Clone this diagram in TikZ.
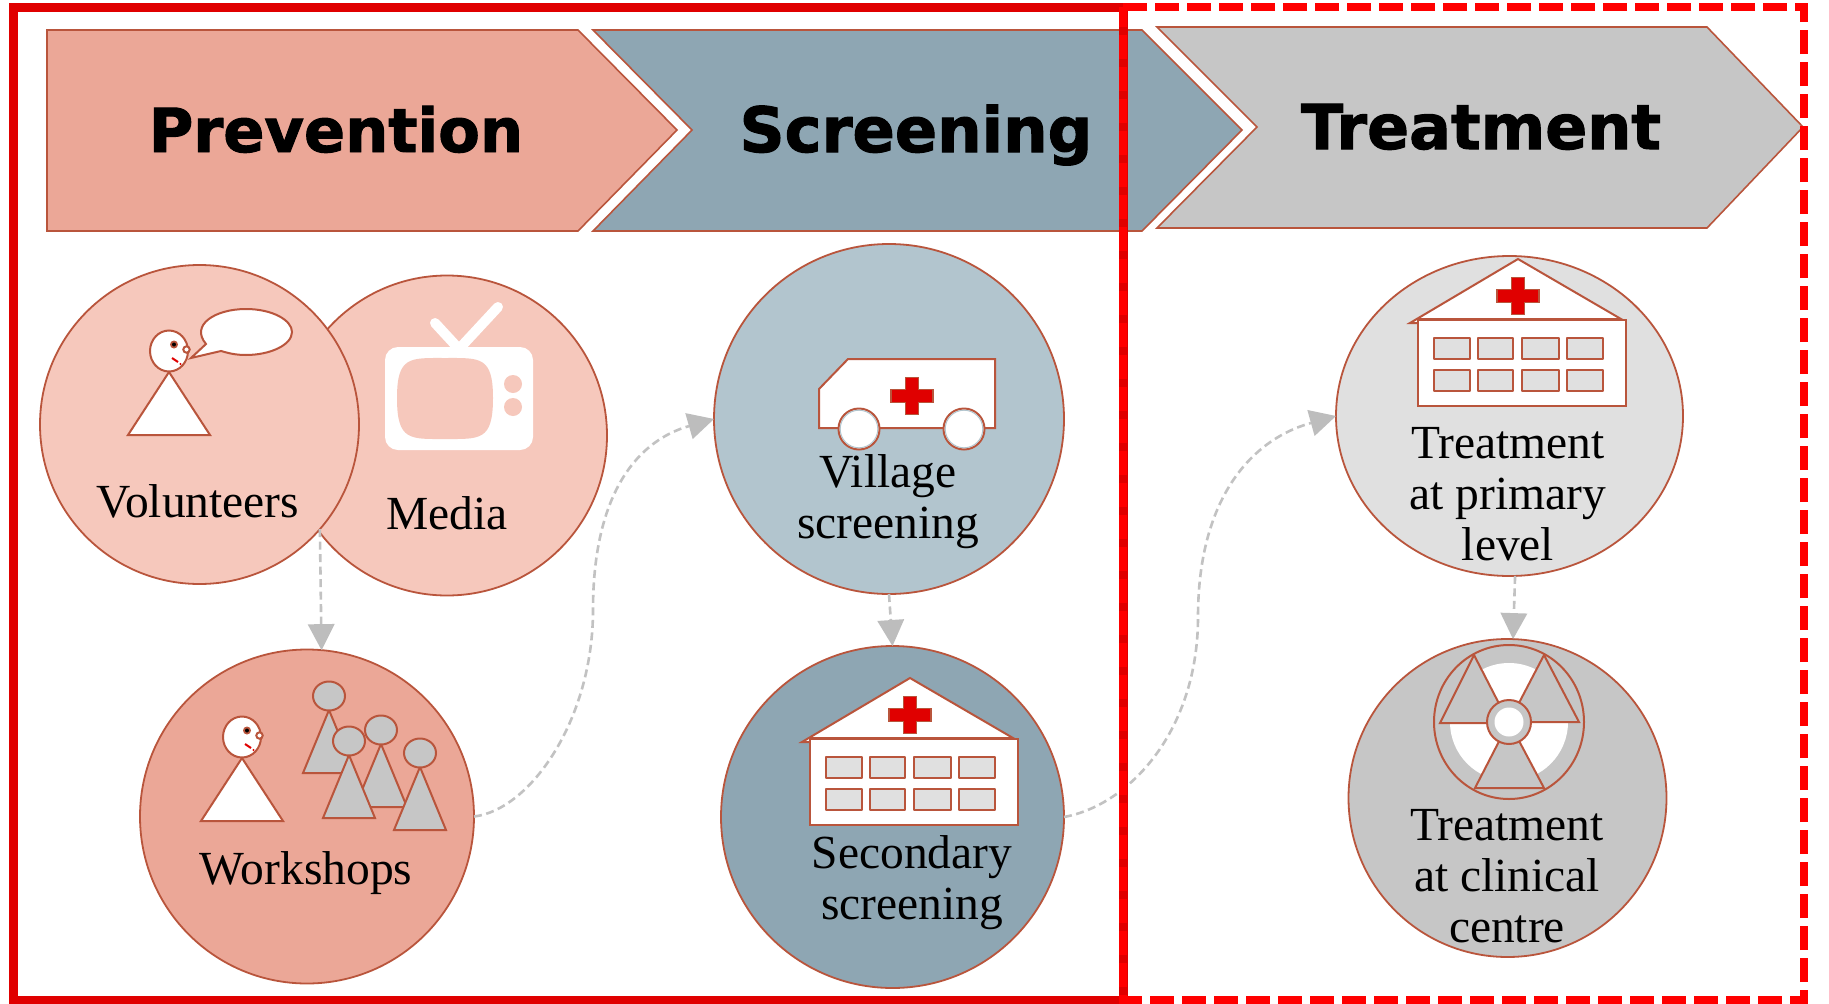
\documentclass[tikz,border=0pt]{standalone}
\usepackage{fontspec}
\setmainfont{Liberation Serif}
\newfontfamily\headfont[BoldFeatures={FakeBold=1.6}]{DejaVu Sans}
\usetikzlibrary{shapes.geometric,arrows.meta}
\definecolor{edgecol}{HTML}{B9553C}
\definecolor{prevcol}{HTML}{EBA797}
\definecolor{medcol}{HTML}{F6C8BC}
\definecolor{scrcol}{HTML}{8EA6B3}
\definecolor{vilcol}{HTML}{B2C5CE}
\definecolor{trtcol}{HTML}{C6C6C6}
\definecolor{pricol}{HTML}{E0E0E0}
\definecolor{crosscol}{HTML}{E00000}
\definecolor{framecol}{HTML}{FF0000}
\definecolor{solidcol}{HTML}{E00000}
\definecolor{linkcol}{HTML}{C2C2C2}
\definecolor{headcol}{HTML}{BDBDBD}
\tikzset{
  banner/.style={draw=edgecol,line width=1.6pt,line join=miter},
  bannertext/.style={font=\headfont\bfseries\fontsize{#1}{66}\selectfont,text=black,inner sep=0pt,anchor=base},
  disc/.style={shape=ellipse,draw=edgecol,line width=1.8pt,inner sep=0pt,outer sep=0pt},
  lab/.style={font=\fontsize{47.5}{51}\selectfont,align=center,text=black,inner sep=0pt},
  icon/.style={draw=edgecol,line width=2pt,line join=miter},
  link/.style={draw=linkcol,line width=2.6pt,dash pattern=on 8pt off 4.5pt,
    -{Triangle[length=26pt,width=27pt,fill=headcol,color=headcol,line width=0pt]}},
}
\newcommand{\personW}[2]{% head x, head y
  \begin{scope}[shift={(#1,#2)}]
    \draw[icon,fill=white] (0,21) -- (-41,84) -- (41,84) -- cycle;
    \draw[icon,fill=white] (0,0) ellipse (19pt and 20.5pt);
    \draw[icon,fill=white] (17.5,-1.5) circle (3.2pt);
    \fill[edgecol] (5,-6.5) circle (4pt);
    \fill[black] (5,-6.5) circle (2pt);
    \draw[crosscol,line width=2pt] (3,7) -- (9,11);
    \fill[crosscol] (11.5,13) circle (1.1pt);
  \end{scope}}
\newcommand{\personG}[2]{% head x, head y
  \draw[icon,fill=trtcol] (#1,#2) ++(0,14) -- ++(-26,63) -- ++(52,0) -- cycle;
  \draw[icon,fill=trtcol] (#1,#2) ellipse (16pt and 14.5pt);}
\newcommand{\redcross}[2]{%
  \draw[draw=edgecol,line width=1.5pt,fill=crosscol,shift={(#1,#2)}]
    (-6.5,-18.5) -- (6.5,-18.5) -- (6.5,-6.5) -- (21,-6.5) -- (21,6.5) -- (6.5,6.5)
    -- (6.5,18.5) -- (-6.5,18.5) -- (-6.5,6.5) -- (-21,6.5) -- (-21,-6.5) -- (-6.5,-6.5) -- cycle;}
\newcommand{\hospital}[2]{%
  \begin{scope}[shift={(#1,#2)}]
    \draw[icon,fill=white] (0,0) -- (-108,64) -- (-100,64) -- (-100,60) -- (103,60) -- cycle;
    \draw[icon,fill=white] (-100,60.5) rectangle (108,147);
    \foreach \xa/\xb in {-84/-48,-40/-5,4/41,49/85}{
      \draw[icon,fill=pricol,line join=round] (\xa,79) rectangle (\xb,100);
      \draw[icon,fill=pricol,line join=round] (\xa,111) rectangle (\xb,132);
    }
  \end{scope}
  \redcross{#1}{#2+37}}
\begin{document}
\begin{tikzpicture}[x=1pt,y=-1pt]
\useasboundingbox (0,0) rectangle (1829,1004);
\fill[white] (0,0) rectangle (1829,1004);

% banners
\draw[banner,fill=prevcol] (47,30) -- (578,30) -- (677,130) -- (578,231) -- (47,231) -- cycle;
\draw[banner,fill=scrcol] (593,30) -- (1142,30) -- (1242,130) -- (1142,231) -- (593,231) -- (692,130) -- cycle;
\draw[banner,fill=trtcol] (1157,27) -- (1707,27) -- (1803,127) -- (1707,228) -- (1157,228) -- (1257,127) -- cycle;
\node[bannertext=60.7] (tprev) at (336,152) {Prevention};
\node[bannertext=62.5] (tscr) at (916,152) {Screening};
\node[bannertext=62] (ttrt) at (1481,149) {Treatment};

% circles
\node[disc,fill=medcol,minimum width=320pt,minimum height=320pt] (media) at (447,435.5) {};
\node[disc,fill=medcol,minimum width=319pt,minimum height=319pt] (vol) at (199.5,424.5) {};
\node[disc,fill=prevcol,minimum width=334pt,minimum height=334pt] (work) at (307,816.5) {};
\node[disc,fill=vilcol,minimum width=350pt,minimum height=350pt] (village) at (889,419) {};
\node[disc,fill=scrcol,minimum width=343pt,minimum height=342pt] (second) at (892.5,817) {};
\node[disc,fill=pricol,minimum width=347pt,minimum height=320pt] (primary) at (1509.5,416) {};
\node[disc,fill=trtcol,minimum width=318pt,minimum height=318pt] (clinic) at (1507.5,798) {};

% volunteers icon
\draw[icon,fill=white] (206,344) .. controls (190,325) and (215,309) .. (246,309)
  .. controls (272,309) and (292,320) .. (292,332)
  .. controls (292,345) and (270,355) .. (246,355)
  .. controls (235,355) and (228,353) .. (221,351) -- (191,358) -- cycle;
\personW{169}{351}
% tv icon
\draw[white,line width=10pt,line cap=round] (435,323) -- (459,349) -- (498,307);
\fill[white,rounded corners=13pt] (385,347) rectangle (533,450);
\fill[medcol] (445,358) .. controls (480,358) and (493,356) .. (493,398)
  .. controls (493,441) and (480,439) .. (445,439)
  .. controls (410,439) and (397,441) .. (397,398)
  .. controls (397,356) and (410,358) .. (445,358) -- cycle;
\fill[medcol] (513,384) circle (9pt);
\fill[medcol] (513,407) circle (9pt);

% workshops icon
\personW{242}{737}
\personG{329}{696}
\personG{381}{730}
\personG{349}{741}
\personG{420}{753}

% ambulance
\draw[icon,fill=white] (819,389) -- (848,359) -- (995,359) -- (995,428) -- (819,428) -- cycle;
\redcross{912}{396}
\draw[icon,fill=white] (859,429) circle (20.5pt);
\draw[vilcol,line width=1pt] (859,429) circle (18.8pt);
\draw[icon,fill=white] (964,429) circle (20.5pt);
\draw[vilcol,line width=1pt] (964,429) circle (18.8pt);

% hospitals
\hospital{910}{678}
\hospital{1518}{259}

% radiation symbol
\draw[icon,fill=trtcol] (1509,722) ellipse (75pt and 77pt);
\fill[white] (1509,722) circle (59pt);
\draw[icon,fill=trtcol] (1474,655) -- (1440,723) -- (1509,723) -- cycle;
\draw[icon,fill=trtcol] (1544,655) -- (1579,722) -- (1509,722) -- cycle;
\draw[icon,fill=trtcol] (1475,788) -- (1544,788) -- (1509,722) -- cycle;
\draw[icon,fill=trtcol] (1509,722) circle (22pt);
\fill[white] (1509,722) circle (14.5pt);

% labels
\node[lab] (lvol) at (198,501) {Volunteers};
\node[lab] (lmed) at (447,513) {Media};
\node[lab] (lwork) at (306,873) {Workshops};
\node[lab] (lvil) at (888,502) {Village\\screening};
\node[lab] (lsec) at (912,883) {Secondary\\screening};
\node[lab] (lpri) at (1508,494) {Treatment\\at primary\\level};
\node[lab] (lcli) at (1507,876) {Treatment\\at clinical\\centre};

% connectors
\draw[link] (vol.-41) -- (work.85.5);
\draw[link] (village.-90) -- (second.90);
\draw[link] (primary.-88) -- (clinic.88);
\coordinate (mida) at (593,610);
\coordinate (midb) at (1198,617);
\draw[link] (work.0) .. controls (530,810) and (593,720) .. (mida)
  .. controls (593,490) and (640,440) .. (village.180);
\draw[link] (second.0) .. controls (1130,805) and (1198,730) .. (midb)
  .. controls (1198,500) and (1250,440) .. (primary.180);

% frames
\coordinate (fa) at (13,7);
\coordinate (fb) at (1123,1000);
\coordinate (fc) at (1123,7);
\coordinate (fd) at (1804,1000);
\draw[solidcol,line width=9pt] (fa) rectangle (fb);
\draw[framecol,line width=8pt,dash pattern=on 24pt off 8pt,dash phase=4pt] (fc) rectangle (fd);
\end{tikzpicture}
\end{document}
